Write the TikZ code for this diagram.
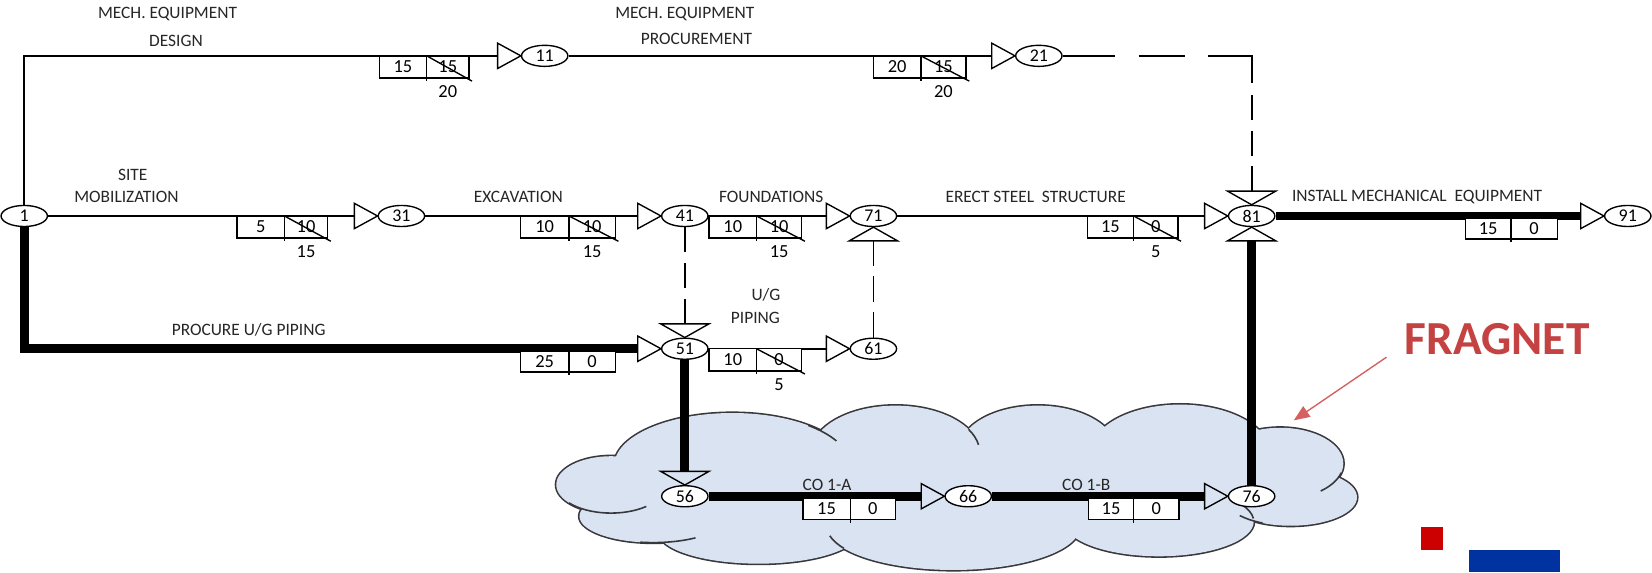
\documentclass[tikz,border=0pt]{standalone}
\usepackage{fontspec}
\setmainfont{Carlito}
\usetikzlibrary{shapes.geometric,arrows.meta,calc}
\definecolor{cloudbg}{RGB}{218,227,241}
\definecolor{cloudedge}{RGB}{55,55,60}
\definecolor{fragred}{RGB}{196,66,66}
\definecolor{arrred}{RGB}{212,96,96}
\definecolor{sqred}{RGB}{204,0,0}
\definecolor{sqblue}{RGB}{0,51,160}
\newcommand\abox[8]{%
  \filldraw[boxst,fill=white] (#2,#5) rectangle (#4,#5-21);
  \draw[boxst] (#3,#5) -- (#3,#5-24);
  \node[num] (#1a) at ({(#2+#3)/2},#5-10.5) {#6};
  \node[num] (#1b) at ({(#3+#4)/2},#5-10.5) {#7};
  \draw[boxst] (#3,#5) -- (#4+3,#5-24);
  \node[num] (#1c) at ({(#3+#4)/2},#5-34) {#8};
}
\newcommand\cbox[7]{%
  \filldraw[boxst,fill=white] (#2,#5) rectangle (#4,#5-20);
  \draw[boxst] (#3,#5) -- (#3,#5-23);
  \node[num] (#1a) at ({(#2+#3)/2},#5-10) {#6};
  \node[num] (#1b) at ({(#3+#4)/2},#5-10) {#7};
}
\newcommand\triL[1]{\draw[tri] (#1.west) -- ++(-22,12) -- ++(0,-24) -- cycle;}
\newcommand\triT[1]{\draw[tri] (#1.north) -- ++(-23,13) -- ++(46,0) -- cycle;}
\newcommand\triB[1]{\draw[tri] (#1.south) -- ++(-23,-13) -- ++(46,0) -- cycle;}
\begin{document}
\begin{tikzpicture}[x=1pt,y=1pt,
  ev/.style={ellipse,draw=black,fill=white,line width=1.3pt,minimum width=44pt,minimum height=20pt,inner sep=0pt,font=\fontsize{17}{17}\selectfont},
  lnk/.style={draw=black,line width=1.6pt},
  crit/.style={draw=black,line width=8.5pt},
  dsh/.style={draw=black,line width=1.6pt,dash pattern=on 24pt off 10pt},
  tri/.style={draw=black,line width=1.3pt,line join=miter},
  boxst/.style={draw=black,line width=1.3pt},
  num/.style={inner sep=0pt,font=\fontsize{17.5}{17.5}\selectfont},
  lbl/.style={inner sep=0pt,text=black!85,font=\fontsize{16.5}{16.5}\selectfont},
  cl/.style={draw=cloudedge,line width=1.5pt}
]
\fill[white] (0,0) rectangle (1568,-543);
\useasboundingbox (0,0) rectangle (1568,-543);

% ---- cloud (fragnet) ----
\foreach \cx/\cy/\rx/\ry in {580/460/52/27, 695/442/112/50, 850/430/80/45, 985/428/75/43, 1120/430/85/46, 1215/440/60/34, 1225/472/63/27, 1100/495/90/33, 905/500/120/41, 720/505/95/30, 620/490/70/25}
  \draw[draw=cloudedge,line width=3pt] (\cx,-\cy) ellipse [x radius=\rx, y radius=\ry];
\foreach \cx/\cy/\rx/\ry in {580/460/52/27, 695/442/112/50, 850/430/80/45, 985/428/75/43, 1120/430/85/46, 1215/440/60/34, 1225/472/63/27, 1100/495/90/33, 905/500/120/41, 720/505/95/30, 620/490/70/25, 910/465/320/45}
  \fill[cloudbg] (\cx,-\cy) ellipse [x radius=\rx, y radius=\ry];
\draw[cl] ([shift={(580,-460)}]-140:52 and 27) arc[start angle=-140,end angle=-50,x radius=52,y radius=27];
\draw[cl] ([shift={(695,-442)}]50:112 and 50) arc[start angle=50,end angle=28,x radius=112,y radius=50];
\draw[cl] ([shift={(850,-430)}]30:80 and 45) arc[start angle=30,end angle=10,x radius=80,y radius=45];
\draw[cl] ([shift={(1215,-440)}]-15:60 and 34) arc[start angle=-15,end angle=-50,x radius=60,y radius=34];
\draw[cl] ([shift={(905,-500)}]-150:120 and 41) arc[start angle=-150,end angle=-168,x radius=120,y radius=41];
\draw[cl] ([shift={(1100,-495)}]5:90 and 33) arc[start angle=5,end angle=30,x radius=90,y radius=33];
\draw[cl] ([shift={(1225,-472)}]-115:63 and 27) arc[start angle=-115,end angle=-140,x radius=63,y radius=27];
\draw[cl] ([shift={(620,-490)}]-100:70 and 25) arc[start angle=-100,end angle=-55,x radius=70,y radius=25];

% ---- events ----
\node[ev] (n1)  at (23,-205)   {1};
\node[ev] (n11) at (517,-53)   {11};
\node[ev] (n21) at (986,-53)   {21};
\node[ev] (n31) at (381,-205)  {31};
\node[ev] (n41) at (650,-205)  {41};
\node[ev] (n71) at (829,-205)  {71};
\node[ev] (n81) at (1188,-205) {81};
\node[ev] (n91) at (1545,-205) {91};
\node[ev] (n51) at (650,-331)  {51};
\node[ev] (n61) at (829,-331)  {61};
\node[ev] (n56) at (650,-471)  {56};
\node[ev] (n66) at (919,-471)  {66};
\node[ev] (n76) at (1188,-471) {76};

% ---- activities ----
\draw[lnk] (n1.north) |- ([xshift=-22pt]n11.west);
\draw[lnk] (n11.east) -- ([xshift=-22pt]n21.west);
\coordinate (c21) at (1188,-53);
\coordinate (c21b) at (1188,-79);
\coordinate (c21c) at (1188,-90);
\draw[lnk,dash pattern=on 50pt off 22pt on 44pt off 22pt on 100pt] (n21.east) -- (c21) -- (c21b);
\draw[lnk,dash pattern=on 24pt off 10pt] (c21c) -- ([yshift=13pt]n81.north);

\draw[lnk] (n1.east) -- ([xshift=-22pt]n31.west);
\draw[lnk] (n31.east) -- ([xshift=-22pt]n41.west);
\draw[lnk] (n41.east) -- ([xshift=-22pt]n71.west);
\draw[lnk] (n71.east) -- ([xshift=-22pt]n81.west);
\draw[crit] (n81.east) -- ([xshift=-22pt]n91.west);

\draw[dsh] (n41.south) -- ([yshift=13pt]n51.north);
\draw[dsh] (n61.north) -- ([yshift=-13pt]n71.south);

\draw[crit,line join=miter] (n1.south) |- ([xshift=-22pt]n51.west);
\draw[lnk] (n51.east) -- ([xshift=-22pt]n61.west);
\draw[crit] (n51.south) -- ([yshift=13pt]n56.north);
\draw[crit] (n56.east) -- ([xshift=-22pt]n66.west);
\draw[crit] (n66.east) -- ([xshift=-22pt]n76.west);
\draw[crit] (n76.north) -- ([yshift=-13pt]n81.south);

% ---- duration / float boxes ----
\abox{b1}{360}{405}{445}{-53}{15}{15}{20}
\abox{b2}{829}{874}{917}{-53}{20}{15}{20}
\abox{b3}{225}{270}{311}{-205}{5}{10}{15}
\abox{b4}{494}{540}{584}{-205}{10}{10}{15}
\abox{b5}{673}{718}{761}{-205}{10}{10}{15}
\abox{b6}{1032}{1076}{1118}{-205}{15}{0}{5}
\cbox{b7}{1391}{1434}{1478}{-207}{15}{0}
\cbox{b8}{494}{540}{584}{-333}{25}{0}
\abox{b9}{673}{718}{761}{-331}{10}{0}{5}
\cbox{b10}{762}{807}{850}{-473}{15}{0}
\cbox{b11}{1033}{1076}{1119}{-473}{15}{0}

% ---- arrow triangles ----
\triL{n11} \triL{n21} \triL{n31} \triL{n41} \triL{n71} \triL{n81} \triL{n91}
\triL{n51} \triL{n61} \triL{n66} \triL{n76}
\triT{n81} \triB{n81} \triB{n71} \triT{n51} \triT{n56}

% ---- labels ----
\node[lbl] (t1)  at (159,-13)  {MECH.~EQUIPMENT};
\node[lbl] (t2)  at (167,-39)  {DESIGN};
\node[lbl] (t3)  at (650,-13)  {MECH.~EQUIPMENT};
\node[lbl] (t4)  at (661,-37)  {PROCUREMENT};
\node[lbl] (t5)  at (126,-166) {SITE};
\node[lbl] (t6)  at (120,-187) {MOBILIZATION};
\node[lbl] (t7)  at (492,-187) {EXCAVATION};
\node[lbl] (t8)  at (732,-187) {FOUNDATIONS};
\node[lbl] (t9)  at (983,-187) {ERECT STEEL~~STRUCTURE};
\node[lbl] (t10) at (1345,-187) {INSTALL MECHANICAL~~EQUIPMENT};
\node[lbl] (t11) at (236,-313) {PROCURE U/G PIPING};
\node[lbl] (t12) at (727,-280) {U/G};
\node[lbl] (t13) at (717,-302) {PIPING};
\node[lbl] (t14) at (785,-460) {CO 1-A};
\node[lbl] (t15) at (1031,-460) {CO 1-B};

% ---- fragnet callout ----
\node[inner sep=0pt,text=fragred,font=\fontsize{45}{45}\selectfont\bfseries] (frag) at (1421,-322) {FRAGNET};
\coordinate (fa) at (1316,-339);
\coordinate (fb) at (1228,-399);
\draw[draw=arrred,line width=1.3pt,-{Triangle[length=15pt,width=12pt]}] (fa) -- (fb);

% ---- corner marks ----
\fill[sqred] (1349,-500) rectangle (1370,-522);
\fill[sqblue] (1394,-522) rectangle (1481,-543);
\end{tikzpicture}
\end{document}
